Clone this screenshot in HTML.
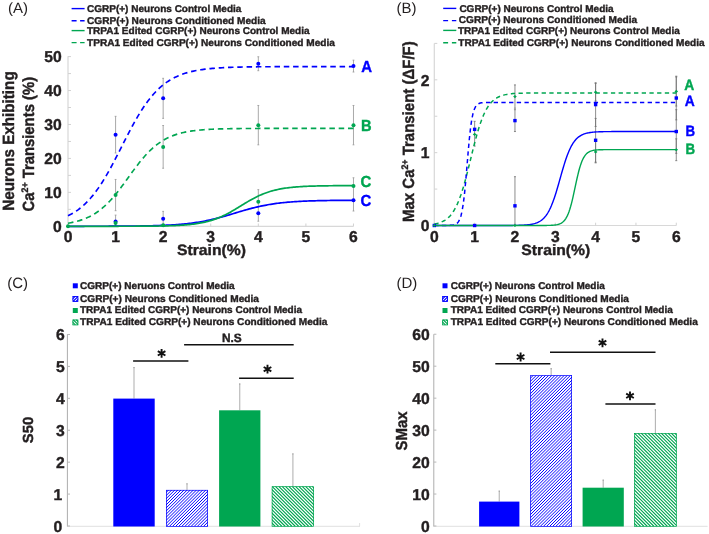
<!DOCTYPE html>
<html><head><meta charset="utf-8"><style>
html,body{margin:0;padding:0;background:#fff;}
svg{display:block;will-change:transform;font-family:"Liberation Sans", sans-serif;text-rendering:geometricPrecision;}
</style></head><body>
<svg width="709" height="534" viewBox="0 0 709 534">
<rect width="709" height="534" fill="#fff"/>
<text x="8.0" y="12.5" font-size="15" font-weight="normal" text-anchor="start" fill="#231f20" >(A)</text>
<line x1="71.6" y1="8.6" x2="84.6" y2="8.6" stroke="#0000ff" stroke-width="1.4"/>
<text x="87" y="11.9" font-size="9.9" font-weight="bold" text-anchor="start" fill="#231f20" stroke="#231f20" stroke-width="0.4" textLength="154.4" lengthAdjust="spacingAndGlyphs" >CGRP(+) Neurons Control Media</text>
<line x1="71.6" y1="20.8" x2="84.6" y2="20.8" stroke="#0000ff" stroke-width="1.4" stroke-dasharray="5,3.5"/>
<text x="87" y="23.9" font-size="9.9" font-weight="bold" text-anchor="start" fill="#231f20" stroke="#231f20" stroke-width="0.4" textLength="178.7" lengthAdjust="spacingAndGlyphs" >CGRP(+) Neurons Conditioned Media</text>
<line x1="71.6" y1="30.6" x2="84.6" y2="30.6" stroke="#00a651" stroke-width="1.4"/>
<text x="87" y="33.7" font-size="9.9" font-weight="bold" text-anchor="start" fill="#231f20" stroke="#231f20" stroke-width="0.4" textLength="222.5" lengthAdjust="spacingAndGlyphs" >TRPA1 Edited CGRP(+) Neurons Control Media</text>
<line x1="71.6" y1="42.6" x2="84.6" y2="42.6" stroke="#00a651" stroke-width="1.4" stroke-dasharray="5,3.5"/>
<text x="87" y="45.6" font-size="9.9" font-weight="bold" text-anchor="start" fill="#231f20" stroke="#231f20" stroke-width="0.4" textLength="247.9" lengthAdjust="spacingAndGlyphs" >TPRA1 Edited CGRP(+) Neurons Conditioned Media</text>
<path d="M68,56.3 L68,226.3 L353.5,226.3" fill="none" stroke="#d8d8d8" stroke-width="1.2"/>
<path d="M68,226.30 L71,226.30 M68,209.33 L71,209.33 M68,192.36 L71,192.36 M68,175.39 L71,175.39 M68,158.42 L71,158.42 M68,141.45 L71,141.45 M68,124.48 L71,124.48 M68,107.51 L71,107.51 M68,90.54 L71,90.54 M68,73.57 L71,73.57 M68,56.60 L71,56.60 M68.00,226.3 L68.00,223.5 M115.58,226.3 L115.58,223.5 M163.16,226.3 L163.16,223.5 M210.74,226.3 L210.74,223.5 M258.32,226.3 L258.32,223.5 M305.90,226.3 L305.90,223.5 M353.48,226.3 L353.48,223.5 " stroke="#d2d2d2" stroke-width="1"/>
<text x="61.8" y="232.0" font-size="15.7" font-weight="bold" text-anchor="end" fill="#231f20" stroke="#231f20" stroke-width="0.4" >0</text>
<text x="61.8" y="198.06" font-size="15.7" font-weight="bold" text-anchor="end" fill="#231f20" stroke="#231f20" stroke-width="0.4" >10</text>
<text x="61.8" y="164.12" font-size="15.7" font-weight="bold" text-anchor="end" fill="#231f20" stroke="#231f20" stroke-width="0.4" >20</text>
<text x="61.8" y="130.18" font-size="15.7" font-weight="bold" text-anchor="end" fill="#231f20" stroke="#231f20" stroke-width="0.4" >30</text>
<text x="61.8" y="96.24" font-size="15.7" font-weight="bold" text-anchor="end" fill="#231f20" stroke="#231f20" stroke-width="0.4" >40</text>
<text x="61.8" y="62.3" font-size="15.7" font-weight="bold" text-anchor="end" fill="#231f20" stroke="#231f20" stroke-width="0.4" >50</text>
<text x="68.0" y="241.6" font-size="15.7" font-weight="bold" text-anchor="middle" fill="#231f20" stroke="#231f20" stroke-width="0.4" >0</text>
<text x="115.58" y="241.6" font-size="15.7" font-weight="bold" text-anchor="middle" fill="#231f20" stroke="#231f20" stroke-width="0.4" >1</text>
<text x="163.16" y="241.6" font-size="15.7" font-weight="bold" text-anchor="middle" fill="#231f20" stroke="#231f20" stroke-width="0.4" >2</text>
<text x="210.74" y="241.6" font-size="15.7" font-weight="bold" text-anchor="middle" fill="#231f20" stroke="#231f20" stroke-width="0.4" >3</text>
<text x="258.32" y="241.6" font-size="15.7" font-weight="bold" text-anchor="middle" fill="#231f20" stroke="#231f20" stroke-width="0.4" >4</text>
<text x="305.9" y="241.6" font-size="15.7" font-weight="bold" text-anchor="middle" fill="#231f20" stroke="#231f20" stroke-width="0.4" >5</text>
<text x="353.48" y="241.6" font-size="15.7" font-weight="bold" text-anchor="middle" fill="#231f20" stroke="#231f20" stroke-width="0.4" >6</text>
<text x="211.5" y="254.8" font-size="15" font-weight="bold" text-anchor="middle" fill="#231f20" stroke="#231f20" stroke-width="0.4" textLength="69" lengthAdjust="spacingAndGlyphs" >Strain(%)</text>
<text transform="translate(13.8,210.8) rotate(-90)" font-size="16.2" font-weight="bold" fill="#231f20" stroke="#231f20" stroke-width="0.4" textLength="139.5" lengthAdjust="spacingAndGlyphs">Neurons Exhibiting</text>
<text transform="translate(34,211.4) rotate(-90)" font-size="16.2" font-weight="bold" fill="#231f20" stroke="#231f20" stroke-width="0.4" textLength="134.5" lengthAdjust="spacingAndGlyphs">Ca<tspan font-size="9.5" dy="-6">2+</tspan><tspan dy="6"> Transients (%)</tspan></text>
<path d="M115.58,116.33 L115.58,152.99 M114.68,116.33 L116.48,116.33 M114.68,152.99 L116.48,152.99" stroke="#9a9a9a" stroke-width="0.85" fill="none"/>
<path d="M163.16,78.32 L163.16,118.37 M162.26,78.32 L164.06,78.32 M162.26,118.37 L164.06,118.37" stroke="#9a9a9a" stroke-width="0.85" fill="none"/>
<path d="M258.32,56.77 L258.32,70.69 M257.42,56.77 L259.22,56.77 M257.42,70.69 L259.22,70.69" stroke="#9a9a9a" stroke-width="0.85" fill="none"/>
<path d="M353.48,60.16 L353.48,72.04 M352.58,60.16 L354.38,60.16 M352.58,72.04 L354.38,72.04" stroke="#9a9a9a" stroke-width="0.85" fill="none"/>
<path d="M115.58,179.46 L115.58,210.69 M114.68,179.46 L116.48,179.46 M114.68,210.69 L116.48,210.69" stroke="#9a9a9a" stroke-width="0.85" fill="none"/>
<path d="M163.16,125.50 L163.16,168.26 M162.26,125.50 L164.06,125.50 M162.26,168.26 L164.06,168.26" stroke="#9a9a9a" stroke-width="0.85" fill="none"/>
<path d="M258.32,105.47 L258.32,144.84 M257.42,105.47 L259.22,105.47 M257.42,144.84 L259.22,144.84" stroke="#9a9a9a" stroke-width="0.85" fill="none"/>
<path d="M353.48,105.47 L353.48,144.84 M352.58,105.47 L354.38,105.47 M352.58,144.84 L354.38,144.84" stroke="#9a9a9a" stroke-width="0.85" fill="none"/>
<path d="M115.58,215.10 L115.58,226.30 M114.68,215.10 L116.48,215.10 M114.68,226.30 L116.48,226.30" stroke="#9a9a9a" stroke-width="0.85" fill="none"/>
<path d="M163.16,211.37 L163.16,226.30 M162.26,211.37 L164.06,211.37 M162.26,226.30 L164.06,226.30" stroke="#9a9a9a" stroke-width="0.85" fill="none"/>
<path d="M258.32,189.64 L258.32,221.21 M257.42,189.64 L259.22,189.64 M257.42,221.21 L259.22,221.21" stroke="#9a9a9a" stroke-width="0.85" fill="none"/>
<path d="M353.48,177.77 L353.48,211.03 M352.58,177.77 L354.38,177.77 M352.58,211.03 L354.38,211.03" stroke="#9a9a9a" stroke-width="0.85" fill="none"/>
<path d="M68.00,223.23 L69.43,222.97 L70.85,222.70 L72.28,222.41 L73.71,222.10 L75.14,221.76 L76.56,221.40 L77.99,221.01 L79.42,220.59 L80.85,220.13 L82.27,219.65 L83.70,219.13 L85.13,218.57 L86.56,217.97 L87.98,217.34 L89.41,216.66 L90.84,215.93 L92.27,215.15 L93.69,214.33 L95.12,213.45 L96.55,212.52 L97.98,211.53 L99.40,210.48 L100.83,209.38 L102.26,208.22 L103.69,206.99 L105.11,205.71 L106.54,204.36 L107.97,202.95 L109.39,201.48 L110.82,199.95 L112.25,198.36 L113.68,196.71 L115.10,195.01 L116.53,193.26 L117.96,191.47 L119.39,189.63 L120.81,187.76 L122.24,185.85 L123.67,183.91 L125.10,181.95 L126.52,179.98 L127.95,178.00 L129.38,176.02 L130.81,174.04 L132.23,172.07 L133.66,170.12 L135.09,168.20 L136.52,166.30 L137.94,164.43 L139.37,162.61 L140.80,160.83 L142.22,159.10 L143.65,157.42 L145.08,155.79 L146.51,154.22 L147.93,152.71 L149.36,151.26 L150.79,149.87 L152.22,148.54 L153.64,147.28 L155.07,146.07 L156.50,144.93 L157.93,143.84 L159.35,142.82 L160.78,141.85 L162.21,140.94 L163.64,140.08 L165.06,139.27 L166.49,138.51 L167.92,137.80 L169.35,137.13 L170.77,136.50 L172.20,135.92 L173.63,135.38 L175.06,134.87 L176.48,134.40 L177.91,133.95 L179.34,133.54 L180.76,133.16 L182.19,132.81 L183.62,132.48 L185.05,132.17 L186.47,131.89 L187.90,131.62 L189.33,131.38 L190.76,131.15 L192.18,130.94 L193.61,130.75 L195.04,130.57 L196.47,130.40 L197.89,130.25 L199.32,130.10 L200.75,129.97 L202.18,129.85 L203.60,129.74 L205.03,129.63 L206.46,129.54 L207.89,129.45 L209.31,129.37 L210.74,129.29 L212.17,129.22 L213.59,129.16 L215.02,129.10 L216.45,129.04 L217.88,128.99 L219.30,128.94 L220.73,128.90 L222.16,128.86 L223.59,128.82 L225.01,128.79 L226.44,128.76 L227.87,128.73 L229.30,128.70 L230.72,128.68 L232.15,128.65 L233.58,128.63 L235.01,128.61 L236.43,128.60 L237.86,128.58 L239.29,128.56 L240.72,128.55 L242.14,128.54 L243.57,128.53 L245.00,128.51 L246.42,128.50 L247.85,128.49 L249.28,128.49 L250.71,128.48 L252.13,128.47 L253.56,128.46 L254.99,128.46 L256.42,128.45 L257.84,128.45 L259.27,128.44 L260.70,128.44 L262.13,128.43 L263.55,128.43 L264.98,128.43 L266.41,128.42 L267.84,128.42 L269.26,128.42 L270.69,128.41 L272.12,128.41 L273.55,128.41 L274.97,128.41 L276.40,128.41 L277.83,128.40 L279.26,128.40 L280.68,128.40 L282.11,128.40 L283.54,128.40 L284.96,128.40 L286.39,128.40 L287.82,128.39 L289.25,128.39 L290.67,128.39 L292.10,128.39 L293.53,128.39 L294.96,128.39 L296.38,128.39 L297.81,128.39 L299.24,128.39 L300.67,128.39 L302.09,128.39 L303.52,128.39 L304.95,128.39 L306.38,128.39 L307.80,128.39 L309.23,128.39 L310.66,128.39 L312.09,128.39 L313.51,128.39 L314.94,128.39 L316.37,128.39 L317.79,128.39 L319.22,128.39 L320.65,128.38 L322.08,128.38 L323.50,128.38 L324.93,128.38 L326.36,128.38 L327.79,128.38 L329.21,128.38 L330.64,128.38 L332.07,128.38 L333.50,128.38 L334.92,128.38 L336.35,128.38 L337.78,128.38 L339.21,128.38 L340.63,128.38 L342.06,128.38 L343.49,128.38 L344.92,128.38 L346.34,128.38 L347.77,128.38 L349.20,128.38 L350.63,128.38 L352.05,128.38 L353.48,128.38" fill="none" stroke="#00a651" stroke-width="1.65" stroke-dasharray="5.5,3.8"/>
<path d="M68.00,215.82 L69.43,215.10 L70.85,214.35 L72.28,213.54 L73.71,212.69 L75.14,211.79 L76.56,210.83 L77.99,209.82 L79.42,208.75 L80.85,207.61 L82.27,206.42 L83.70,205.16 L85.13,203.83 L86.56,202.44 L87.98,200.97 L89.41,199.43 L90.84,197.82 L92.27,196.13 L93.69,194.37 L95.12,192.53 L96.55,190.61 L97.98,188.62 L99.40,186.55 L100.83,184.41 L102.26,182.20 L103.69,179.91 L105.11,177.56 L106.54,175.14 L107.97,172.66 L109.39,170.12 L110.82,167.52 L112.25,164.88 L113.68,162.20 L115.10,159.47 L116.53,156.72 L117.96,153.94 L119.39,151.14 L120.81,148.33 L122.24,145.52 L123.67,142.71 L125.10,139.90 L126.52,137.12 L127.95,134.35 L129.38,131.62 L130.81,128.92 L132.23,126.26 L133.66,123.65 L135.09,121.10 L136.52,118.59 L137.94,116.15 L139.37,113.78 L140.80,111.47 L142.22,109.23 L143.65,107.06 L145.08,104.97 L146.51,102.95 L147.93,101.01 L149.36,99.15 L150.79,97.36 L152.22,95.65 L153.64,94.01 L155.07,92.45 L156.50,90.96 L157.93,89.54 L159.35,88.19 L160.78,86.91 L162.21,85.69 L163.64,84.54 L165.06,83.45 L166.49,82.41 L167.92,81.44 L169.35,80.52 L170.77,79.65 L172.20,78.83 L173.63,78.06 L175.06,77.33 L176.48,76.64 L177.91,76.00 L179.34,75.40 L180.76,74.83 L182.19,74.30 L183.62,73.80 L185.05,73.33 L186.47,72.89 L187.90,72.48 L189.33,72.09 L190.76,71.73 L192.18,71.39 L193.61,71.08 L195.04,70.78 L196.47,70.50 L197.89,70.25 L199.32,70.00 L200.75,69.78 L202.18,69.57 L203.60,69.37 L205.03,69.18 L206.46,69.01 L207.89,68.85 L209.31,68.70 L210.74,68.56 L212.17,68.43 L213.59,68.31 L215.02,68.19 L216.45,68.09 L217.88,67.99 L219.30,67.89 L220.73,67.81 L222.16,67.73 L223.59,67.65 L225.01,67.58 L226.44,67.51 L227.87,67.45 L229.30,67.40 L230.72,67.34 L232.15,67.29 L233.58,67.25 L235.01,67.20 L236.43,67.16 L237.86,67.13 L239.29,67.09 L240.72,67.06 L242.14,67.03 L243.57,67.00 L245.00,66.97 L246.42,66.95 L247.85,66.93 L249.28,66.91 L250.71,66.89 L252.13,66.87 L253.56,66.85 L254.99,66.83 L256.42,66.82 L257.84,66.80 L259.27,66.79 L260.70,66.78 L262.13,66.77 L263.55,66.76 L264.98,66.75 L266.41,66.74 L267.84,66.73 L269.26,66.72 L270.69,66.71 L272.12,66.71 L273.55,66.70 L274.97,66.69 L276.40,66.69 L277.83,66.68 L279.26,66.68 L280.68,66.67 L282.11,66.67 L283.54,66.67 L284.96,66.66 L286.39,66.66 L287.82,66.66 L289.25,66.65 L290.67,66.65 L292.10,66.65 L293.53,66.65 L294.96,66.64 L296.38,66.64 L297.81,66.64 L299.24,66.64 L300.67,66.64 L302.09,66.63 L303.52,66.63 L304.95,66.63 L306.38,66.63 L307.80,66.63 L309.23,66.63 L310.66,66.63 L312.09,66.63 L313.51,66.62 L314.94,66.62 L316.37,66.62 L317.79,66.62 L319.22,66.62 L320.65,66.62 L322.08,66.62 L323.50,66.62 L324.93,66.62 L326.36,66.62 L327.79,66.62 L329.21,66.62 L330.64,66.62 L332.07,66.62 L333.50,66.62 L334.92,66.62 L336.35,66.62 L337.78,66.62 L339.21,66.62 L340.63,66.62 L342.06,66.62 L343.49,66.62 L344.92,66.61 L346.34,66.61 L347.77,66.61 L349.20,66.61 L350.63,66.61 L352.05,66.61 L353.48,66.61" fill="none" stroke="#0000ff" stroke-width="1.65" stroke-dasharray="5.5,3.8"/>
<path d="M68.00,226.29 L69.43,226.29 L70.85,226.29 L72.28,226.29 L73.71,226.28 L75.14,226.28 L76.56,226.28 L77.99,226.28 L79.42,226.28 L80.85,226.28 L82.27,226.28 L83.70,226.28 L85.13,226.27 L86.56,226.27 L87.98,226.27 L89.41,226.27 L90.84,226.27 L92.27,226.26 L93.69,226.26 L95.12,226.26 L96.55,226.26 L97.98,226.25 L99.40,226.25 L100.83,226.25 L102.26,226.24 L103.69,226.24 L105.11,226.23 L106.54,226.23 L107.97,226.23 L109.39,226.22 L110.82,226.21 L112.25,226.21 L113.68,226.20 L115.10,226.20 L116.53,226.19 L117.96,226.18 L119.39,226.17 L120.81,226.16 L122.24,226.16 L123.67,226.15 L125.10,226.14 L126.52,226.12 L127.95,226.11 L129.38,226.10 L130.81,226.09 L132.23,226.07 L133.66,226.06 L135.09,226.04 L136.52,226.02 L137.94,226.00 L139.37,225.98 L140.80,225.96 L142.22,225.94 L143.65,225.91 L145.08,225.89 L146.51,225.86 L147.93,225.83 L149.36,225.80 L150.79,225.77 L152.22,225.73 L153.64,225.69 L155.07,225.65 L156.50,225.61 L157.93,225.56 L159.35,225.52 L160.78,225.46 L162.21,225.41 L163.64,225.35 L165.06,225.29 L166.49,225.22 L167.92,225.15 L169.35,225.08 L170.77,225.00 L172.20,224.91 L173.63,224.82 L175.06,224.73 L176.48,224.63 L177.91,224.52 L179.34,224.41 L180.76,224.29 L182.19,224.17 L183.62,224.03 L185.05,223.89 L186.47,223.74 L187.90,223.59 L189.33,223.42 L190.76,223.25 L192.18,223.07 L193.61,222.88 L195.04,222.67 L196.47,222.46 L197.89,222.24 L199.32,222.01 L200.75,221.77 L202.18,221.52 L203.60,221.25 L205.03,220.98 L206.46,220.69 L207.89,220.40 L209.31,220.09 L210.74,219.77 L212.17,219.44 L213.59,219.11 L215.02,218.76 L216.45,218.40 L217.88,218.03 L219.30,217.65 L220.73,217.27 L222.16,216.87 L223.59,216.47 L225.01,216.06 L226.44,215.65 L227.87,215.23 L229.30,214.81 L230.72,214.38 L232.15,213.95 L233.58,213.52 L235.01,213.09 L236.43,212.66 L237.86,212.23 L239.29,211.80 L240.72,211.38 L242.14,210.96 L243.57,210.54 L245.00,210.13 L246.42,209.73 L247.85,209.33 L249.28,208.94 L250.71,208.56 L252.13,208.19 L253.56,207.83 L254.99,207.48 L256.42,207.13 L257.84,206.80 L259.27,206.48 L260.70,206.17 L262.13,205.87 L263.55,205.58 L264.98,205.30 L266.41,205.04 L267.84,204.78 L269.26,204.53 L270.69,204.30 L272.12,204.07 L273.55,203.86 L274.97,203.66 L276.40,203.46 L277.83,203.28 L279.26,203.10 L280.68,202.93 L282.11,202.77 L283.54,202.62 L284.96,202.48 L286.39,202.34 L287.82,202.22 L289.25,202.09 L290.67,201.98 L292.10,201.87 L293.53,201.77 L294.96,201.67 L296.38,201.58 L297.81,201.50 L299.24,201.42 L300.67,201.34 L302.09,201.27 L303.52,201.20 L304.95,201.14 L306.38,201.08 L307.80,201.02 L309.23,200.97 L310.66,200.92 L312.09,200.87 L313.51,200.83 L314.94,200.79 L316.37,200.75 L317.79,200.71 L319.22,200.68 L320.65,200.64 L322.08,200.61 L323.50,200.59 L324.93,200.56 L326.36,200.54 L327.79,200.51 L329.21,200.49 L330.64,200.47 L332.07,200.45 L333.50,200.43 L334.92,200.42 L336.35,200.40 L337.78,200.39 L339.21,200.37 L340.63,200.36 L342.06,200.35 L343.49,200.33 L344.92,200.32 L346.34,200.31 L347.77,200.30 L349.20,200.30 L350.63,200.29 L352.05,200.28 L353.48,200.27" fill="none" stroke="#0000ff" stroke-width="1.7"/>
<path d="M68.00,226.30 L69.43,226.30 L70.85,226.30 L72.28,226.30 L73.71,226.30 L75.14,226.30 L76.56,226.30 L77.99,226.30 L79.42,226.30 L80.85,226.30 L82.27,226.30 L83.70,226.30 L85.13,226.30 L86.56,226.30 L87.98,226.30 L89.41,226.30 L90.84,226.30 L92.27,226.29 L93.69,226.29 L95.12,226.29 L96.55,226.29 L97.98,226.29 L99.40,226.29 L100.83,226.29 L102.26,226.29 L103.69,226.29 L105.11,226.29 L106.54,226.29 L107.97,226.29 L109.39,226.29 L110.82,226.28 L112.25,226.28 L113.68,226.28 L115.10,226.28 L116.53,226.28 L117.96,226.28 L119.39,226.27 L120.81,226.27 L122.24,226.27 L123.67,226.27 L125.10,226.26 L126.52,226.26 L127.95,226.25 L129.38,226.25 L130.81,226.25 L132.23,226.24 L133.66,226.24 L135.09,226.23 L136.52,226.22 L137.94,226.22 L139.37,226.21 L140.80,226.20 L142.22,226.19 L143.65,226.18 L145.08,226.17 L146.51,226.16 L147.93,226.15 L149.36,226.14 L150.79,226.12 L152.22,226.11 L153.64,226.09 L155.07,226.07 L156.50,226.05 L157.93,226.03 L159.35,226.00 L160.78,225.97 L162.21,225.95 L163.64,225.91 L165.06,225.88 L166.49,225.84 L167.92,225.80 L169.35,225.76 L170.77,225.71 L172.20,225.66 L173.63,225.60 L175.06,225.54 L176.48,225.47 L177.91,225.40 L179.34,225.32 L180.76,225.23 L182.19,225.14 L183.62,225.04 L185.05,224.93 L186.47,224.81 L187.90,224.68 L189.33,224.54 L190.76,224.39 L192.18,224.23 L193.61,224.05 L195.04,223.86 L196.47,223.66 L197.89,223.44 L199.32,223.20 L200.75,222.95 L202.18,222.67 L203.60,222.38 L205.03,222.06 L206.46,221.72 L207.89,221.36 L209.31,220.97 L210.74,220.56 L212.17,220.13 L213.59,219.66 L215.02,219.17 L216.45,218.65 L217.88,218.10 L219.30,217.52 L220.73,216.91 L222.16,216.28 L223.59,215.61 L225.01,214.92 L226.44,214.20 L227.87,213.45 L229.30,212.68 L230.72,211.89 L232.15,211.08 L233.58,210.25 L235.01,209.41 L236.43,208.55 L237.86,207.69 L239.29,206.81 L240.72,205.94 L242.14,205.06 L243.57,204.19 L245.00,203.32 L246.42,202.46 L247.85,201.62 L249.28,200.79 L250.71,199.98 L252.13,199.19 L253.56,198.42 L254.99,197.67 L256.42,196.95 L257.84,196.26 L259.27,195.60 L260.70,194.96 L262.13,194.35 L263.55,193.77 L264.98,193.22 L266.41,192.70 L267.84,192.21 L269.26,191.75 L270.69,191.31 L272.12,190.90 L273.55,190.51 L274.97,190.15 L276.40,189.81 L277.83,189.50 L279.26,189.20 L280.68,188.93 L282.11,188.67 L283.54,188.43 L284.96,188.21 L286.39,188.01 L287.82,187.82 L289.25,187.64 L290.67,187.48 L292.10,187.33 L293.53,187.19 L294.96,187.06 L296.38,186.94 L297.81,186.83 L299.24,186.73 L300.67,186.64 L302.09,186.55 L303.52,186.47 L304.95,186.40 L306.38,186.33 L307.80,186.27 L309.23,186.21 L310.66,186.16 L312.09,186.11 L313.51,186.07 L314.94,186.03 L316.37,185.99 L317.79,185.96 L319.22,185.93 L320.65,185.90 L322.08,185.87 L323.50,185.85 L324.93,185.82 L326.36,185.80 L327.79,185.78 L329.21,185.77 L330.64,185.75 L332.07,185.74 L333.50,185.72 L334.92,185.71 L336.35,185.70 L337.78,185.69 L339.21,185.68 L340.63,185.67 L342.06,185.66 L343.49,185.65 L344.92,185.65 L346.34,185.64 L347.77,185.64 L349.20,185.63 L350.63,185.63 L352.05,185.62 L353.48,185.62" fill="none" stroke="#00a651" stroke-width="1.7"/>
<circle cx="115.58" cy="134.66" r="2" fill="#0000ff"/>
<circle cx="163.16" cy="98.35" r="2" fill="#0000ff"/>
<circle cx="258.32" cy="63.73" r="2" fill="#0000ff"/>
<circle cx="353.48" cy="66.10" r="2" fill="#0000ff"/>
<circle cx="115.58" cy="221.55" r="2" fill="#0000ff"/>
<circle cx="163.16" cy="218.83" r="2" fill="#0000ff"/>
<circle cx="258.32" cy="213.23" r="2" fill="#0000ff"/>
<circle cx="353.48" cy="200.17" r="2" fill="#0000ff"/>
<circle cx="68.00" cy="226.30" r="2" fill="#00a651"/>
<circle cx="115.58" cy="195.08" r="2" fill="#00a651"/>
<circle cx="163.16" cy="146.88" r="2" fill="#00a651"/>
<circle cx="258.32" cy="125.16" r="2" fill="#00a651"/>
<circle cx="353.48" cy="125.16" r="2" fill="#00a651"/>
<circle cx="115.58" cy="222.91" r="2" fill="#00a651"/>
<circle cx="163.16" cy="225.28" r="2" fill="#00a651"/>
<circle cx="258.32" cy="201.86" r="2" fill="#00a651"/>
<circle cx="353.48" cy="185.91" r="2" fill="#00a651"/>
<text x="361.2" y="72.2" font-size="16" font-weight="bold" text-anchor="start" fill="#0000ff" stroke="#0000ff" stroke-width="0.4" textLength="10.8" lengthAdjust="spacingAndGlyphs" >A</text>
<text x="361.0" y="130.7" font-size="16" font-weight="bold" text-anchor="start" fill="#00a651" stroke="#00a651" stroke-width="0.4" textLength="10.6" lengthAdjust="spacingAndGlyphs" >B</text>
<text x="360.6" y="187.0" font-size="16" font-weight="bold" text-anchor="start" fill="#00a651" stroke="#00a651" stroke-width="0.4" textLength="10.8" lengthAdjust="spacingAndGlyphs" >C</text>
<text x="360.6" y="205.6" font-size="16" font-weight="bold" text-anchor="start" fill="#0000ff" stroke="#0000ff" stroke-width="0.4" textLength="10.8" lengthAdjust="spacingAndGlyphs" >C</text>
<text x="396.5" y="12.5" font-size="15" font-weight="normal" text-anchor="start" fill="#231f20" >(B)</text>
<line x1="443.2" y1="8.4" x2="456.3" y2="8.4" stroke="#0000ff" stroke-width="1.4"/>
<text x="459.4" y="11.5" font-size="9.9" font-weight="bold" text-anchor="start" fill="#231f20" stroke="#231f20" stroke-width="0.4" textLength="154.2" lengthAdjust="spacingAndGlyphs" >CGRP(+) Neurons Control Media</text>
<line x1="443.2" y1="20.6" x2="456.3" y2="20.6" stroke="#0000ff" stroke-width="1.4" stroke-dasharray="4.9,3.8"/>
<text x="458.8" y="23.4" font-size="9.9" font-weight="bold" text-anchor="start" fill="#231f20" stroke="#231f20" stroke-width="0.4" textLength="178.3" lengthAdjust="spacingAndGlyphs" >CGRP(+) Neurons Conditioned Media</text>
<line x1="443.2" y1="30.4" x2="456.3" y2="30.4" stroke="#00a651" stroke-width="1.4"/>
<text x="458.0" y="34.1" font-size="9.9" font-weight="bold" text-anchor="start" fill="#231f20" stroke="#231f20" stroke-width="0.4" textLength="221.8" lengthAdjust="spacingAndGlyphs" >TRPA1 Edited CGRP(+) Neurons Control Media</text>
<line x1="443.2" y1="42.8" x2="456.3" y2="42.8" stroke="#00a651" stroke-width="1.4" stroke-dasharray="4.9,3.8"/>
<text x="458.3" y="45.8" font-size="9.9" font-weight="bold" text-anchor="start" fill="#231f20" stroke="#231f20" stroke-width="0.4" textLength="246.3" lengthAdjust="spacingAndGlyphs" >TRPA1 Edited CGRP(+) Neurons Conditioned Media</text>
<path d="M434.3,43.4 L434.3,225.5 L676.3,225.5" fill="none" stroke="#d8d8d8" stroke-width="1.2"/>
<path d="M434.3,225.50 L437.3,225.50 M434.3,189.08 L437.3,189.08 M434.3,152.66 L437.3,152.66 M434.3,116.24 L437.3,116.24 M434.3,79.82 L437.3,79.82 M434.3,43.40 L437.3,43.40 M434.30,225.5 L434.30,222.7 M474.63,225.5 L474.63,222.7 M514.96,225.5 L514.96,222.7 M555.29,225.5 L555.29,222.7 M595.62,225.5 L595.62,222.7 M635.95,225.5 L635.95,222.7 M676.28,225.5 L676.28,222.7 " stroke="#d2d2d2" stroke-width="1"/>
<text x="429.6" y="231.2" font-size="15.7" font-weight="bold" text-anchor="end" fill="#231f20" stroke="#231f20" stroke-width="0.4" >0</text>
<text x="429.6" y="158.36" font-size="15.7" font-weight="bold" text-anchor="end" fill="#231f20" stroke="#231f20" stroke-width="0.4" >1</text>
<text x="429.6" y="85.52" font-size="15.7" font-weight="bold" text-anchor="end" fill="#231f20" stroke="#231f20" stroke-width="0.4" >2</text>
<text x="434.3" y="241.6" font-size="15.7" font-weight="bold" text-anchor="middle" fill="#231f20" stroke="#231f20" stroke-width="0.4" >0</text>
<text x="474.63" y="241.6" font-size="15.7" font-weight="bold" text-anchor="middle" fill="#231f20" stroke="#231f20" stroke-width="0.4" >1</text>
<text x="514.96" y="241.6" font-size="15.7" font-weight="bold" text-anchor="middle" fill="#231f20" stroke="#231f20" stroke-width="0.4" >2</text>
<text x="555.29" y="241.6" font-size="15.7" font-weight="bold" text-anchor="middle" fill="#231f20" stroke="#231f20" stroke-width="0.4" >3</text>
<text x="595.62" y="241.6" font-size="15.7" font-weight="bold" text-anchor="middle" fill="#231f20" stroke="#231f20" stroke-width="0.4" >4</text>
<text x="635.95" y="241.6" font-size="15.7" font-weight="bold" text-anchor="middle" fill="#231f20" stroke="#231f20" stroke-width="0.4" >5</text>
<text x="676.28" y="241.6" font-size="15.7" font-weight="bold" text-anchor="middle" fill="#231f20" stroke="#231f20" stroke-width="0.4" >6</text>
<text x="555.8" y="254.8" font-size="15" font-weight="bold" text-anchor="middle" fill="#231f20" stroke="#231f20" stroke-width="0.4" textLength="69" lengthAdjust="spacingAndGlyphs" >Strain(%)</text>
<text transform="translate(413.8,222) rotate(-90)" font-size="16.2" font-weight="bold" fill="#231f20" stroke="#231f20" stroke-width="0.4" textLength="180.7" lengthAdjust="spacingAndGlyphs">Max Ca<tspan font-size="9.5" dy="-6">2+</tspan><tspan dy="6"> Transient (ΔF/F)</tspan></text>
<path d="M474.63,121.34 L474.63,146.10 M473.63,121.34 L475.63,121.34 M473.63,146.10 L475.63,146.10" stroke="#707070" stroke-width="0.8" fill="none"/>
<path d="M514.96,109.68 L514.96,131.54 M513.96,109.68 L515.96,109.68 M513.96,131.54 L515.96,131.54" stroke="#707070" stroke-width="0.8" fill="none"/>
<path d="M514.96,84.92 L514.96,108.23 M513.96,84.92 L515.96,84.92 M513.96,108.23 L515.96,108.23" stroke="#707070" stroke-width="0.8" fill="none"/>
<path d="M514.96,176.70 L514.96,225.50 M513.96,176.70 L515.96,176.70 M513.96,225.50 L515.96,225.50" stroke="#707070" stroke-width="0.8" fill="none"/>
<path d="M595.62,82.73 L595.62,126.44 M594.62,82.73 L596.62,82.73 M594.62,126.44 L596.62,126.44" stroke="#707070" stroke-width="0.8" fill="none"/>
<path d="M595.62,118.43 L595.62,162.13 M594.62,118.43 L596.62,118.43 M594.62,162.13 L596.62,162.13" stroke="#707070" stroke-width="0.8" fill="none"/>
<path d="M595.62,83.46 L595.62,100.94 M594.62,83.46 L596.62,83.46 M594.62,100.94 L596.62,100.94" stroke="#707070" stroke-width="0.8" fill="none"/>
<path d="M595.62,141.01 L595.62,162.86 M594.62,141.01 L596.62,141.01 M594.62,162.86 L596.62,162.86" stroke="#707070" stroke-width="0.8" fill="none"/>
<path d="M676.28,76.18 L676.28,119.88 M675.28,76.18 L677.28,76.18 M675.28,119.88 L677.28,119.88" stroke="#707070" stroke-width="0.8" fill="none"/>
<path d="M676.28,109.68 L676.28,153.39 M675.28,109.68 L677.28,109.68 M675.28,153.39 L677.28,153.39" stroke="#707070" stroke-width="0.8" fill="none"/>
<path d="M676.28,76.91 L676.28,106.04 M675.28,76.91 L677.28,76.91 M675.28,106.04 L677.28,106.04" stroke="#707070" stroke-width="0.8" fill="none"/>
<path d="M676.28,138.82 L676.28,160.67 M675.28,138.82 L677.28,138.82 M675.28,160.67 L677.28,160.67" stroke="#707070" stroke-width="0.8" fill="none"/>
<path d="M434.30,224.04 L435.51,223.81 L436.72,223.54 L437.93,223.23 L439.14,222.87 L440.35,222.45 L441.56,221.97 L442.77,221.42 L443.98,220.78 L445.19,220.05 L446.40,219.21 L447.61,218.25 L448.82,217.15 L450.03,215.90 L451.24,214.47 L452.45,212.86 L453.66,211.04 L454.87,208.99 L456.08,206.69 L457.29,204.14 L458.50,201.32 L459.71,198.21 L460.92,194.81 L462.13,191.13 L463.34,187.18 L464.55,182.97 L465.76,178.53 L466.97,173.88 L468.18,169.08 L469.39,164.18 L470.60,159.22 L471.81,154.25 L473.02,149.35 L474.23,144.55 L475.44,139.91 L476.65,135.46 L477.86,131.25 L479.07,127.30 L480.28,123.62 L481.49,120.22 L482.70,117.12 L483.91,114.29 L485.12,111.74 L486.33,109.44 L487.54,107.39 L488.75,105.57 L489.96,103.96 L491.17,102.53 L492.38,101.28 L493.59,100.18 L494.80,99.22 L496.00,98.38 L497.21,97.65 L498.42,97.01 L499.63,96.46 L500.84,95.98 L502.05,95.56 L503.26,95.20 L504.47,94.89 L505.68,94.62 L506.89,94.39 L508.10,94.19 L509.31,94.01 L510.52,93.86 L511.73,93.73 L512.94,93.62 L514.15,93.53 L515.36,93.44 L516.57,93.37 L517.78,93.31 L518.99,93.26 L520.20,93.21 L521.41,93.17 L522.62,93.14 L523.83,93.11 L525.04,93.09 L526.25,93.06 L527.46,93.05 L528.67,93.03 L529.88,93.02 L531.09,93.00 L532.30,92.99 L533.51,92.99 L534.72,92.98 L535.93,92.97 L537.14,92.97 L538.35,92.96 L539.56,92.96 L540.77,92.95 L541.98,92.95 L543.19,92.95 L544.40,92.95 L545.61,92.94 L546.82,92.94 L548.03,92.94 L549.24,92.94 L550.45,92.94 L551.66,92.94 L552.87,92.94 L554.08,92.94 L555.29,92.93 L556.50,92.93 L557.71,92.93 L558.92,92.93 L560.13,92.93 L561.34,92.93 L562.55,92.93 L563.76,92.93 L564.97,92.93 L566.18,92.93 L567.39,92.93 L568.60,92.93 L569.81,92.93 L571.02,92.93 L572.23,92.93 L573.44,92.93 L574.65,92.93 L575.86,92.93 L577.07,92.93 L578.28,92.93 L579.49,92.93 L580.70,92.93 L581.91,92.93 L583.12,92.93 L584.33,92.93 L585.54,92.93 L586.75,92.93 L587.96,92.93 L589.17,92.93 L590.38,92.93 L591.59,92.93 L592.80,92.93 L594.01,92.93 L595.22,92.93 L596.43,92.93 L597.64,92.93 L598.85,92.93 L600.06,92.93 L601.27,92.93 L602.48,92.93 L603.69,92.93 L604.90,92.93 L606.11,92.93 L607.32,92.93 L608.53,92.93 L609.74,92.93 L610.95,92.93 L612.16,92.93 L613.37,92.93 L614.58,92.93 L615.78,92.93 L616.99,92.93 L618.20,92.93 L619.41,92.93 L620.62,92.93 L621.83,92.93 L623.04,92.93 L624.25,92.93 L625.46,92.93 L626.67,92.93 L627.88,92.93 L629.09,92.93 L630.30,92.93 L631.51,92.93 L632.72,92.93 L633.93,92.93 L635.14,92.93 L636.35,92.93 L637.56,92.93 L638.77,92.93 L639.98,92.93 L641.19,92.93 L642.40,92.93 L643.61,92.93 L644.82,92.93 L646.03,92.93 L647.24,92.93 L648.45,92.93 L649.66,92.93 L650.87,92.93 L652.08,92.93 L653.29,92.93 L654.50,92.93 L655.71,92.93 L656.92,92.93 L658.13,92.93 L659.34,92.93 L660.55,92.93 L661.76,92.93 L662.97,92.93 L664.18,92.93 L665.39,92.93 L666.60,92.93 L667.81,92.93 L669.02,92.93 L670.23,92.93 L671.44,92.93 L672.65,92.93 L673.86,92.93 L675.07,92.93 L676.28,92.93" fill="none" stroke="#00a651" stroke-width="1.5" stroke-dasharray="4.3,3.4"/>
<path d="M434.30,225.50 L435.51,225.50 L436.72,225.50 L437.93,225.50 L439.14,225.50 L440.35,225.50 L441.56,225.50 L442.77,225.49 L443.98,225.49 L445.19,225.48 L446.40,225.47 L447.61,225.45 L448.82,225.42 L450.03,225.36 L451.24,225.28 L452.45,225.14 L453.66,224.92 L454.87,224.57 L456.08,224.01 L457.29,223.11 L458.50,221.68 L459.71,219.44 L460.92,215.99 L462.13,210.83 L463.34,203.41 L464.55,193.35 L465.76,180.75 L466.97,166.41 L468.18,151.80 L469.39,138.49 L470.60,127.54 L471.81,119.27 L473.02,113.42 L474.23,109.46 L475.44,106.86 L476.65,105.20 L477.86,104.15 L479.07,103.49 L480.28,103.08 L481.49,102.82 L482.70,102.66 L483.91,102.56 L485.12,102.50 L486.33,102.46 L487.54,102.44 L488.75,102.42 L489.96,102.41 L491.17,102.41 L492.38,102.41 L493.59,102.40 L494.80,102.40 L496.00,102.40 L497.21,102.40 L498.42,102.40 L499.63,102.40 L500.84,102.40 L502.05,102.40 L503.26,102.40 L504.47,102.40 L505.68,102.40 L506.89,102.40 L508.10,102.40 L509.31,102.40 L510.52,102.40 L511.73,102.40 L512.94,102.40 L514.15,102.40 L515.36,102.40 L516.57,102.40 L517.78,102.40 L518.99,102.40 L520.20,102.40 L521.41,102.40 L522.62,102.40 L523.83,102.40 L525.04,102.40 L526.25,102.40 L527.46,102.40 L528.67,102.40 L529.88,102.40 L531.09,102.40 L532.30,102.40 L533.51,102.40 L534.72,102.40 L535.93,102.40 L537.14,102.40 L538.35,102.40 L539.56,102.40 L540.77,102.40 L541.98,102.40 L543.19,102.40 L544.40,102.40 L545.61,102.40 L546.82,102.40 L548.03,102.40 L549.24,102.40 L550.45,102.40 L551.66,102.40 L552.87,102.40 L554.08,102.40 L555.29,102.40 L556.50,102.40 L557.71,102.40 L558.92,102.40 L560.13,102.40 L561.34,102.40 L562.55,102.40 L563.76,102.40 L564.97,102.40 L566.18,102.40 L567.39,102.40 L568.60,102.40 L569.81,102.40 L571.02,102.40 L572.23,102.40 L573.44,102.40 L574.65,102.40 L575.86,102.40 L577.07,102.40 L578.28,102.40 L579.49,102.40 L580.70,102.40 L581.91,102.40 L583.12,102.40 L584.33,102.40 L585.54,102.40 L586.75,102.40 L587.96,102.40 L589.17,102.40 L590.38,102.40 L591.59,102.40 L592.80,102.40 L594.01,102.40 L595.22,102.40 L596.43,102.40 L597.64,102.40 L598.85,102.40 L600.06,102.40 L601.27,102.40 L602.48,102.40 L603.69,102.40 L604.90,102.40 L606.11,102.40 L607.32,102.40 L608.53,102.40 L609.74,102.40 L610.95,102.40 L612.16,102.40 L613.37,102.40 L614.58,102.40 L615.78,102.40 L616.99,102.40 L618.20,102.40 L619.41,102.40 L620.62,102.40 L621.83,102.40 L623.04,102.40 L624.25,102.40 L625.46,102.40 L626.67,102.40 L627.88,102.40 L629.09,102.40 L630.30,102.40 L631.51,102.40 L632.72,102.40 L633.93,102.40 L635.14,102.40 L636.35,102.40 L637.56,102.40 L638.77,102.40 L639.98,102.40 L641.19,102.40 L642.40,102.40 L643.61,102.40 L644.82,102.40 L646.03,102.40 L647.24,102.40 L648.45,102.40 L649.66,102.40 L650.87,102.40 L652.08,102.40 L653.29,102.40 L654.50,102.40 L655.71,102.40 L656.92,102.40 L658.13,102.40 L659.34,102.40 L660.55,102.40 L661.76,102.40 L662.97,102.40 L664.18,102.40 L665.39,102.40 L666.60,102.40 L667.81,102.40 L669.02,102.40 L670.23,102.40 L671.44,102.40 L672.65,102.40 L673.86,102.40 L675.07,102.40 L676.28,102.40" fill="none" stroke="#0000ff" stroke-width="1.5" stroke-dasharray="4.3,3.4"/>
<path d="M434.30,225.50 L435.11,225.50 L435.91,225.50 L436.72,225.50 L437.53,225.50 L438.33,225.50 L439.14,225.50 L439.95,225.50 L440.75,225.50 L441.56,225.50 L442.37,225.50 L443.17,225.50 L443.98,225.50 L444.79,225.50 L445.59,225.50 L446.40,225.50 L447.21,225.50 L448.01,225.50 L448.82,225.50 L449.63,225.50 L450.43,225.50 L451.24,225.50 L452.05,225.50 L452.85,225.50 L453.66,225.50 L454.47,225.50 L455.27,225.50 L456.08,225.50 L456.88,225.50 L457.69,225.50 L458.50,225.50 L459.30,225.50 L460.11,225.50 L460.92,225.50 L461.72,225.50 L462.53,225.50 L463.34,225.50 L464.14,225.50 L464.95,225.50 L465.76,225.50 L466.56,225.50 L467.37,225.50 L468.18,225.50 L468.98,225.50 L469.79,225.50 L470.60,225.50 L471.40,225.50 L472.21,225.50 L473.02,225.50 L473.82,225.50 L474.63,225.50 L475.44,225.50 L476.24,225.50 L477.05,225.50 L477.86,225.50 L478.66,225.50 L479.47,225.50 L480.28,225.50 L481.08,225.50 L481.89,225.50 L482.70,225.50 L483.50,225.50 L484.31,225.50 L485.12,225.50 L485.92,225.50 L486.73,225.50 L487.54,225.50 L488.34,225.50 L489.15,225.50 L489.96,225.50 L490.76,225.50 L491.57,225.50 L492.38,225.50 L493.18,225.50 L493.99,225.50 L494.80,225.50 L495.60,225.49 L496.41,225.49 L497.21,225.49 L498.02,225.49 L498.83,225.49 L499.63,225.49 L500.44,225.49 L501.25,225.49 L502.05,225.49 L502.86,225.48 L503.67,225.48 L504.47,225.48 L505.28,225.48 L506.09,225.47 L506.89,225.47 L507.70,225.47 L508.51,225.46 L509.31,225.46 L510.12,225.45 L510.93,225.44 L511.73,225.44 L512.54,225.43 L513.35,225.42 L514.15,225.41 L514.96,225.40 L515.77,225.39 L516.57,225.37 L517.38,225.35 L518.19,225.34 L518.99,225.31 L519.80,225.29 L520.61,225.26 L521.41,225.23 L522.22,225.20 L523.03,225.16 L523.83,225.11 L524.64,225.06 L525.45,225.01 L526.25,224.94 L527.06,224.87 L527.87,224.79 L528.67,224.70 L529.48,224.60 L530.29,224.48 L531.09,224.35 L531.90,224.20 L532.71,224.04 L533.51,223.85 L534.32,223.64 L535.12,223.41 L535.93,223.14 L536.74,222.85 L537.54,222.51 L538.35,222.14 L539.16,221.72 L539.96,221.25 L540.77,220.73 L541.58,220.14 L542.38,219.49 L543.19,218.77 L544.00,217.97 L544.80,217.08 L545.61,216.09 L546.42,215.01 L547.22,213.82 L548.03,212.51 L548.84,211.08 L549.64,209.53 L550.45,207.85 L551.26,206.03 L552.06,204.08 L552.87,202.00 L553.68,199.78 L554.48,197.44 L555.29,194.98 L556.10,192.42 L556.90,189.76 L557.71,187.02 L558.52,184.22 L559.32,181.38 L560.13,178.52 L560.94,175.66 L561.74,172.81 L562.55,170.02 L563.36,167.28 L564.16,164.62 L564.97,162.05 L565.78,159.59 L566.58,157.25 L567.39,155.04 L568.20,152.95 L569.00,151.00 L569.81,149.19 L570.62,147.51 L571.42,145.95 L572.23,144.53 L573.04,143.22 L573.84,142.03 L574.65,140.94 L575.46,139.96 L576.26,139.07 L577.07,138.27 L577.87,137.54 L578.68,136.89 L579.49,136.31 L580.29,135.79 L581.10,135.32 L581.91,134.90 L582.71,134.52 L583.52,134.19 L584.33,133.89 L585.13,133.63 L585.94,133.39 L586.75,133.18 L587.55,133.00 L588.36,132.83 L589.17,132.69 L589.97,132.55 L590.78,132.44 L591.59,132.34 L592.39,132.24 L593.20,132.16 L594.01,132.09 L594.81,132.03 L595.62,131.97 L596.43,131.92 L597.23,131.88 L598.04,131.84 L598.85,131.80 L599.65,131.77 L600.46,131.75 L601.27,131.72 L602.07,131.70 L602.88,131.68 L603.69,131.67 L604.49,131.65 L605.30,131.64 L606.11,131.63 L606.91,131.62 L607.72,131.61 L608.53,131.60 L609.33,131.59 L610.14,131.59 L610.95,131.58 L611.75,131.57 L612.56,131.57 L613.37,131.57 L614.17,131.56 L614.98,131.56 L615.78,131.56 L616.59,131.55 L617.40,131.55 L618.20,131.55 L619.01,131.55 L619.82,131.55 L620.62,131.55 L621.43,131.55 L622.24,131.54 L623.04,131.54 L623.85,131.54 L624.66,131.54 L625.46,131.54 L626.27,131.54 L627.08,131.54 L627.88,131.54 L628.69,131.54 L629.50,131.54 L630.30,131.54 L631.11,131.54 L631.92,131.54 L632.72,131.54 L633.53,131.54 L634.34,131.54 L635.14,131.54 L635.95,131.54 L636.76,131.54 L637.56,131.54 L638.37,131.54 L639.18,131.54 L639.98,131.54 L640.79,131.54 L641.60,131.54 L642.40,131.54 L643.21,131.54 L644.02,131.54 L644.82,131.54 L645.63,131.54 L646.44,131.54 L647.24,131.54 L648.05,131.54 L648.86,131.54 L649.66,131.54 L650.47,131.54 L651.28,131.54 L652.08,131.54 L652.89,131.54 L653.70,131.54 L654.50,131.54 L655.31,131.54 L656.12,131.54 L656.92,131.54 L657.73,131.54 L658.53,131.54 L659.34,131.54 L660.15,131.54 L660.95,131.54 L661.76,131.54 L662.57,131.54 L663.37,131.54 L664.18,131.54 L664.99,131.54 L665.79,131.54 L666.60,131.54 L667.41,131.54 L668.21,131.54 L669.02,131.54 L669.83,131.54 L670.63,131.54 L671.44,131.54 L672.25,131.54 L673.05,131.54 L673.86,131.54 L674.67,131.54 L675.47,131.54 L676.28,131.54" fill="none" stroke="#0000ff" stroke-width="1.4"/>
<path d="M434.30,225.50 L435.11,225.50 L435.91,225.50 L436.72,225.50 L437.53,225.50 L438.33,225.50 L439.14,225.50 L439.95,225.50 L440.75,225.50 L441.56,225.50 L442.37,225.50 L443.17,225.50 L443.98,225.50 L444.79,225.50 L445.59,225.50 L446.40,225.50 L447.21,225.50 L448.01,225.50 L448.82,225.50 L449.63,225.50 L450.43,225.50 L451.24,225.50 L452.05,225.50 L452.85,225.50 L453.66,225.50 L454.47,225.50 L455.27,225.50 L456.08,225.50 L456.88,225.50 L457.69,225.50 L458.50,225.50 L459.30,225.50 L460.11,225.50 L460.92,225.50 L461.72,225.50 L462.53,225.50 L463.34,225.50 L464.14,225.50 L464.95,225.50 L465.76,225.50 L466.56,225.50 L467.37,225.50 L468.18,225.50 L468.98,225.50 L469.79,225.50 L470.60,225.50 L471.40,225.50 L472.21,225.50 L473.02,225.50 L473.82,225.50 L474.63,225.50 L475.44,225.50 L476.24,225.50 L477.05,225.50 L477.86,225.50 L478.66,225.50 L479.47,225.50 L480.28,225.50 L481.08,225.50 L481.89,225.50 L482.70,225.50 L483.50,225.50 L484.31,225.50 L485.12,225.50 L485.92,225.50 L486.73,225.50 L487.54,225.50 L488.34,225.50 L489.15,225.50 L489.96,225.50 L490.76,225.50 L491.57,225.50 L492.38,225.50 L493.18,225.50 L493.99,225.50 L494.80,225.50 L495.60,225.50 L496.41,225.50 L497.21,225.50 L498.02,225.50 L498.83,225.50 L499.63,225.50 L500.44,225.50 L501.25,225.50 L502.05,225.50 L502.86,225.50 L503.67,225.50 L504.47,225.50 L505.28,225.50 L506.09,225.50 L506.89,225.50 L507.70,225.50 L508.51,225.50 L509.31,225.50 L510.12,225.50 L510.93,225.50 L511.73,225.50 L512.54,225.50 L513.35,225.50 L514.15,225.50 L514.96,225.50 L515.77,225.50 L516.57,225.50 L517.38,225.50 L518.19,225.50 L518.99,225.50 L519.80,225.50 L520.61,225.50 L521.41,225.50 L522.22,225.50 L523.03,225.50 L523.83,225.50 L524.64,225.50 L525.45,225.50 L526.25,225.50 L527.06,225.50 L527.87,225.50 L528.67,225.50 L529.48,225.50 L530.29,225.50 L531.09,225.50 L531.90,225.50 L532.71,225.50 L533.51,225.50 L534.32,225.50 L535.12,225.50 L535.93,225.50 L536.74,225.49 L537.54,225.49 L538.35,225.49 L539.16,225.49 L539.96,225.49 L540.77,225.48 L541.58,225.48 L542.38,225.48 L543.19,225.47 L544.00,225.47 L544.80,225.46 L545.61,225.45 L546.42,225.44 L547.22,225.42 L548.03,225.41 L548.84,225.39 L549.64,225.36 L550.45,225.33 L551.26,225.29 L552.06,225.25 L552.87,225.19 L553.68,225.12 L554.48,225.04 L555.29,224.94 L556.10,224.82 L556.90,224.67 L557.71,224.48 L558.52,224.26 L559.32,223.99 L560.13,223.67 L560.94,223.28 L561.74,222.80 L562.55,222.23 L563.36,221.54 L564.16,220.72 L564.97,219.74 L565.78,218.58 L566.58,217.22 L567.39,215.62 L568.20,213.78 L569.00,211.65 L569.81,209.25 L570.62,206.54 L571.42,203.56 L572.23,200.32 L573.04,196.84 L573.84,193.20 L574.65,189.45 L575.46,185.65 L576.26,181.90 L577.07,178.26 L577.87,174.79 L578.68,171.54 L579.49,168.56 L580.29,165.86 L581.10,163.45 L581.91,161.32 L582.71,159.48 L583.52,157.88 L584.33,156.52 L585.13,155.36 L585.94,154.38 L586.75,153.56 L587.55,152.87 L588.36,152.30 L589.17,151.83 L589.97,151.43 L590.78,151.11 L591.59,150.84 L592.39,150.62 L593.20,150.43 L594.01,150.28 L594.81,150.16 L595.62,150.06 L596.43,149.98 L597.23,149.91 L598.04,149.85 L598.85,149.81 L599.65,149.77 L600.46,149.74 L601.27,149.71 L602.07,149.69 L602.88,149.68 L603.69,149.66 L604.49,149.65 L605.30,149.64 L606.11,149.64 L606.91,149.63 L607.72,149.62 L608.53,149.62 L609.33,149.62 L610.14,149.61 L610.95,149.61 L611.75,149.61 L612.56,149.61 L613.37,149.61 L614.17,149.61 L614.98,149.60 L615.78,149.60 L616.59,149.60 L617.40,149.60 L618.20,149.60 L619.01,149.60 L619.82,149.60 L620.62,149.60 L621.43,149.60 L622.24,149.60 L623.04,149.60 L623.85,149.60 L624.66,149.60 L625.46,149.60 L626.27,149.60 L627.08,149.60 L627.88,149.60 L628.69,149.60 L629.50,149.60 L630.30,149.60 L631.11,149.60 L631.92,149.60 L632.72,149.60 L633.53,149.60 L634.34,149.60 L635.14,149.60 L635.95,149.60 L636.76,149.60 L637.56,149.60 L638.37,149.60 L639.18,149.60 L639.98,149.60 L640.79,149.60 L641.60,149.60 L642.40,149.60 L643.21,149.60 L644.02,149.60 L644.82,149.60 L645.63,149.60 L646.44,149.60 L647.24,149.60 L648.05,149.60 L648.86,149.60 L649.66,149.60 L650.47,149.60 L651.28,149.60 L652.08,149.60 L652.89,149.60 L653.70,149.60 L654.50,149.60 L655.31,149.60 L656.12,149.60 L656.92,149.60 L657.73,149.60 L658.53,149.60 L659.34,149.60 L660.15,149.60 L660.95,149.60 L661.76,149.60 L662.57,149.60 L663.37,149.60 L664.18,149.60 L664.99,149.60 L665.79,149.60 L666.60,149.60 L667.41,149.60 L668.21,149.60 L669.02,149.60 L669.83,149.60 L670.63,149.60 L671.44,149.60 L672.25,149.60 L673.05,149.60 L673.86,149.60 L674.67,149.60 L675.47,149.60 L676.28,149.60" fill="none" stroke="#00a651" stroke-width="1.4"/>
<rect x="432.60" y="223.80" width="3.4" height="3.4" fill="#0000ff"/>
<rect x="472.93" y="223.80" width="3.4" height="3.4" fill="#0000ff"/>
<rect x="472.93" y="127.65" width="3.4" height="3.4" fill="#0000ff"/>
<rect x="513.26" y="118.91" width="3.4" height="3.4" fill="#0000ff"/>
<rect x="513.26" y="204.13" width="3.4" height="3.4" fill="#0000ff"/>
<rect x="593.92" y="102.89" width="3.4" height="3.4" fill="#0000ff"/>
<rect x="593.92" y="138.58" width="3.4" height="3.4" fill="#0000ff"/>
<rect x="674.58" y="96.33" width="3.4" height="3.4" fill="#0000ff"/>
<rect x="674.58" y="129.84" width="3.4" height="3.4" fill="#0000ff"/>
<path d="M432.50,225.50 L434.30,223.90 L436.10,225.50 L434.30,227.10Z" fill="#00a651"/>
<path d="M472.83,134.45 L474.63,132.85 L476.43,134.45 L474.63,136.05Z" fill="#00a651"/>
<path d="M513.16,225.50 L514.96,223.90 L516.76,225.50 L514.96,227.10Z" fill="#00a651"/>
<path d="M513.16,96.57 L514.96,94.97 L516.76,96.57 L514.96,98.17Z" fill="#00a651"/>
<path d="M593.82,92.20 L595.62,90.60 L597.42,92.20 L595.62,93.80Z" fill="#00a651"/>
<path d="M593.82,151.93 L595.62,150.33 L597.42,151.93 L595.62,153.53Z" fill="#00a651"/>
<path d="M674.48,91.47 L676.28,89.87 L678.08,91.47 L676.28,93.07Z" fill="#00a651"/>
<path d="M674.48,149.75 L676.28,148.15 L678.08,149.75 L676.28,151.35Z" fill="#00a651"/>
<text x="684.3" y="89.6" font-size="15" font-weight="bold" text-anchor="start" fill="#00a651" stroke="#00a651" stroke-width="0.4" textLength="10.0" lengthAdjust="spacingAndGlyphs" >A</text>
<text x="684.8" y="106.2" font-size="15" font-weight="bold" text-anchor="start" fill="#0000ff" stroke="#0000ff" stroke-width="0.4" textLength="10.0" lengthAdjust="spacingAndGlyphs" >A</text>
<text x="685.4" y="135.5" font-size="15" font-weight="bold" text-anchor="start" fill="#0000ff" stroke="#0000ff" stroke-width="0.4" textLength="9.6" lengthAdjust="spacingAndGlyphs" >B</text>
<text x="685.4" y="154.0" font-size="15" font-weight="bold" text-anchor="start" fill="#00a651" stroke="#00a651" stroke-width="0.4" textLength="9.6" lengthAdjust="spacingAndGlyphs" >B</text>
<defs>
<pattern id="hb" patternUnits="userSpaceOnUse" width="2.1" height="4" patternTransform="rotate(45)"><rect width="2.1" height="4" fill="#fff"/><rect width="1.15" height="4" fill="#0000ff"/></pattern>
<pattern id="hg" patternUnits="userSpaceOnUse" width="2.25" height="4" patternTransform="rotate(-45)"><rect width="2.25" height="4" fill="#fff"/><rect width="1.25" height="4" fill="#00a651"/></pattern>
</defs>
<text x="7.3" y="287.7" font-size="15" font-weight="normal" text-anchor="start" fill="#231f20" >(C)</text>
<rect x="72.8" y="283.30" width="5" height="5" fill="#0000ff"/>
<text x="80" y="288.9" font-size="9.9" font-weight="bold" text-anchor="start" fill="#231f20" stroke="#231f20" stroke-width="0.4" textLength="154.7" lengthAdjust="spacingAndGlyphs" >CGRP(+) Neruons Control Media</text>
<clipPath id="hc1"><rect x="72.5" y="296.1" width="5.80" height="5.40"/></clipPath>
<rect x="72.5" y="296.1" width="5.80" height="5.40" fill="#fff"/>
<path d="M67.00,301.50 L72.40,296.10 M70.00,301.50 L75.40,296.10 M73.00,301.50 L78.40,296.10 M76.00,301.50 L81.40,296.10 M79.00,301.50 L84.40,296.10 " stroke="#0000ff" stroke-width="1.1" clip-path="url(#hc1)"/>
<rect x="72.95" y="296.55" width="4.90" height="4.95" fill="none" stroke="#0000ff" stroke-width="0.9"/>
<text x="80" y="301.8" font-size="9.9" font-weight="bold" text-anchor="start" fill="#231f20" stroke="#231f20" stroke-width="0.4" textLength="178.9" lengthAdjust="spacingAndGlyphs" >CGRP(+) Neurons Conditioned Media</text>
<rect x="72.8" y="308.00" width="5" height="5" fill="#00a651"/>
<text x="80" y="313.4" font-size="9.9" font-weight="bold" text-anchor="start" fill="#231f20" stroke="#231f20" stroke-width="0.4" textLength="222.0" lengthAdjust="spacingAndGlyphs" >TRPA1 Edited CGRP(+) Neurons Control Media</text>
<clipPath id="hc2"><rect x="72.5" y="319.5" width="5.80" height="5.40"/></clipPath>
<rect x="72.5" y="319.5" width="5.80" height="5.40" fill="#fff"/>
<path d="M67.00,319.50 L72.40,324.90 M70.00,319.50 L75.40,324.90 M73.00,319.50 L78.40,324.90 M76.00,319.50 L81.40,324.90 M79.00,319.50 L84.40,324.90 " stroke="#00a651" stroke-width="1.1" clip-path="url(#hc2)"/>
<rect x="72.95" y="319.95" width="4.90" height="4.95" fill="none" stroke="#00a651" stroke-width="0.9"/>
<text x="80" y="324.9" font-size="9.9" font-weight="bold" text-anchor="start" fill="#231f20" stroke="#231f20" stroke-width="0.4" textLength="247.4" lengthAdjust="spacingAndGlyphs" >TRPA1 Edited CGRP(+) Neurons Conditioned Media</text>
<text x="62.2" y="531.8" font-size="15.7" font-weight="bold" text-anchor="end" fill="#231f20" stroke="#231f20" stroke-width="0.4" >0</text>
<text x="62.2" y="499.88" font-size="15.7" font-weight="bold" text-anchor="end" fill="#231f20" stroke="#231f20" stroke-width="0.4" >1</text>
<text x="64.8" y="467.96" font-size="15.7" font-weight="bold" text-anchor="end" fill="#231f20" stroke="#231f20" stroke-width="0.4" >2</text>
<text x="64.8" y="436.04" font-size="15.7" font-weight="bold" text-anchor="end" fill="#231f20" stroke="#231f20" stroke-width="0.4" >3</text>
<text x="64.8" y="404.12" font-size="15.7" font-weight="bold" text-anchor="end" fill="#231f20" stroke="#231f20" stroke-width="0.4" >4</text>
<text x="64.8" y="372.2" font-size="15.7" font-weight="bold" text-anchor="end" fill="#231f20" stroke="#231f20" stroke-width="0.4" >5</text>
<text x="64.8" y="340.28" font-size="15.7" font-weight="bold" text-anchor="end" fill="#231f20" stroke="#231f20" stroke-width="0.4" >6</text>
<path d="M67.9,526.3 L360,526.3 M359.6,526.3 L359.6,523" fill="none" stroke="#e0e0e0" stroke-width="1"/><path d="M67.4,334.2 L67.4,526.6" fill="none" stroke="#adadad" stroke-width="1"/>
<path d="M67.4,526.00 L70,526.00 M67.4,494.08 L70,494.08 M67.4,462.16 L70,462.16 M67.4,430.24 L70,430.24 M67.4,398.32 L70,398.32 M67.4,366.40 L70,366.40 M67.4,334.48 L70,334.48 " stroke="#b8b8b8" stroke-width="1"/>
<line x1="134.00" y1="367.2" x2="134.00" y2="398.6" stroke="#b4b4b4" stroke-width="1.1"/>
<line x1="133.40" y1="367.59999999999997" x2="134.60" y2="367.59999999999997" stroke="#8c8c8c" stroke-width="0.8"/>
<rect x="113.3" y="398.6" width="41.40" height="127.90" fill="#0000ff"/>
<line x1="187.00" y1="483.4" x2="187.00" y2="489.9" stroke="#b4b4b4" stroke-width="1.1"/>
<line x1="186.40" y1="483.79999999999995" x2="187.60" y2="483.79999999999995" stroke="#8c8c8c" stroke-width="0.8"/>
<clipPath id="hc3"><rect x="166.0" y="489.9" width="42.00" height="36.60"/></clipPath>
<rect x="166.0" y="489.9" width="42.00" height="36.60" fill="#fff"/>
<path d="M129.00,526.50 L165.60,489.90 M132.10,526.50 L168.70,489.90 M135.20,526.50 L171.80,489.90 M138.30,526.50 L174.90,489.90 M141.40,526.50 L178.00,489.90 M144.50,526.50 L181.10,489.90 M147.60,526.50 L184.20,489.90 M150.70,526.50 L187.30,489.90 M153.80,526.50 L190.40,489.90 M156.90,526.50 L193.50,489.90 M160.00,526.50 L196.60,489.90 M163.10,526.50 L199.70,489.90 M166.20,526.50 L202.80,489.90 M169.30,526.50 L205.90,489.90 M172.40,526.50 L209.00,489.90 M175.50,526.50 L212.10,489.90 M178.60,526.50 L215.20,489.90 M181.70,526.50 L218.30,489.90 M184.80,526.50 L221.40,489.90 M187.90,526.50 L224.50,489.90 M191.00,526.50 L227.60,489.90 M194.10,526.50 L230.70,489.90 M197.20,526.50 L233.80,489.90 M200.30,526.50 L236.90,489.90 M203.40,526.50 L240.00,489.90 M206.50,526.50 L243.10,489.90 M209.60,526.50 L246.20,489.90 " stroke="#0000ff" stroke-width="1.0" clip-path="url(#hc3)"/>
<rect x="166.35" y="490.25" width="41.30" height="36.25" fill="none" stroke="#0000ff" stroke-width="0.7"/>
<line x1="239.75" y1="383.6" x2="239.75" y2="410.3" stroke="#b4b4b4" stroke-width="1.1"/>
<line x1="239.15" y1="384.0" x2="240.35" y2="384.0" stroke="#8c8c8c" stroke-width="0.8"/>
<rect x="219.1" y="410.3" width="41.30" height="116.20" fill="#00a651"/>
<line x1="292.90" y1="453.5" x2="292.90" y2="486.3" stroke="#b4b4b4" stroke-width="1.1"/>
<line x1="292.30" y1="453.9" x2="293.50" y2="453.9" stroke="#8c8c8c" stroke-width="0.8"/>
<clipPath id="hc4"><rect x="271.8" y="486.3" width="42.20" height="40.20"/></clipPath>
<rect x="271.8" y="486.3" width="42.20" height="40.20" fill="#fff"/>
<path d="M231.80,486.30 L272.00,526.50 M235.15,486.30 L275.35,526.50 M238.50,486.30 L278.70,526.50 M241.85,486.30 L282.05,526.50 M245.20,486.30 L285.40,526.50 M248.55,486.30 L288.75,526.50 M251.90,486.30 L292.10,526.50 M255.25,486.30 L295.45,526.50 M258.60,486.30 L298.80,526.50 M261.95,486.30 L302.15,526.50 M265.30,486.30 L305.50,526.50 M268.65,486.30 L308.85,526.50 M272.00,486.30 L312.20,526.50 M275.35,486.30 L315.55,526.50 M278.70,486.30 L318.90,526.50 M282.05,486.30 L322.25,526.50 M285.40,486.30 L325.60,526.50 M288.75,486.30 L328.95,526.50 M292.10,486.30 L332.30,526.50 M295.45,486.30 L335.65,526.50 M298.80,486.30 L339.00,526.50 M302.15,486.30 L342.35,526.50 M305.50,486.30 L345.70,526.50 M308.85,486.30 L349.05,526.50 M312.20,486.30 L352.40,526.50 M315.55,486.30 L355.75,526.50 " stroke="#00a651" stroke-width="1.1" clip-path="url(#hc4)"/>
<rect x="272.15" y="486.65" width="41.50" height="39.85" fill="none" stroke="#00a651" stroke-width="0.7"/>
<line x1="133.1" y1="361" x2="188.4" y2="361" stroke="#111" stroke-width="1.5"/>
<line x1="184.1" y1="344.8" x2="293.7" y2="344.8" stroke="#111" stroke-width="1.5"/>
<line x1="239.1" y1="378.2" x2="293.7" y2="378.2" stroke="#111" stroke-width="1.5"/>
<path d="M161.60,348.90 L161.60,357.70 M165.41,351.10 L157.79,355.50 M165.41,355.50 L157.79,351.10 " stroke="#111" stroke-width="1.9" stroke-linecap="butt"/>
<path d="M267.50,364.80 L267.50,373.60 M271.31,367.00 L263.69,371.40 M271.31,371.40 L263.69,367.00 " stroke="#111" stroke-width="1.9" stroke-linecap="butt"/>
<text x="222" y="341.8" font-size="12" font-weight="bold" text-anchor="start" fill="#231f20" stroke="#231f20" stroke-width="0.4" textLength="19.8" lengthAdjust="spacingAndGlyphs" >N.S</text>
<text transform="translate(32.9,443.3) rotate(-90)" font-size="14.6" font-weight="bold" fill="#231f20" stroke="#231f20" stroke-width="0.4" textLength="26.5" lengthAdjust="spacingAndGlyphs">S50</text>
<text x="396.4" y="287.5" font-size="15" font-weight="normal" text-anchor="start" fill="#231f20" >(D)</text>
<rect x="442.5" y="283.30" width="5" height="5" fill="#0000ff"/>
<text x="450.7" y="288.9" font-size="9.9" font-weight="bold" text-anchor="start" fill="#231f20" stroke="#231f20" stroke-width="0.4" textLength="154.1" lengthAdjust="spacingAndGlyphs" >CGRP(+) Neurons Control Media</text>
<clipPath id="hc5"><rect x="442.2" y="296.1" width="5.80" height="5.40"/></clipPath>
<rect x="442.2" y="296.1" width="5.80" height="5.40" fill="#fff"/>
<path d="M437.00,301.50 L442.40,296.10 M440.00,301.50 L445.40,296.10 M443.00,301.50 L448.40,296.10 M446.00,301.50 L451.40,296.10 M449.00,301.50 L454.40,296.10 " stroke="#0000ff" stroke-width="1.1" clip-path="url(#hc5)"/>
<rect x="442.65" y="296.55" width="4.90" height="4.95" fill="none" stroke="#0000ff" stroke-width="0.9"/>
<text x="450.7" y="301.8" font-size="9.9" font-weight="bold" text-anchor="start" fill="#231f20" stroke="#231f20" stroke-width="0.4" textLength="178.2" lengthAdjust="spacingAndGlyphs" >CGRP(+) Neurons Conditioned Media</text>
<rect x="442.5" y="308.00" width="5" height="5" fill="#00a651"/>
<text x="450.7" y="313.4" font-size="9.9" font-weight="bold" text-anchor="start" fill="#231f20" stroke="#231f20" stroke-width="0.4" textLength="222.1" lengthAdjust="spacingAndGlyphs" >TRPA1 Edited CGRP(+) Neurons Control Media</text>
<clipPath id="hc6"><rect x="442.2" y="319.5" width="5.80" height="5.40"/></clipPath>
<rect x="442.2" y="319.5" width="5.80" height="5.40" fill="#fff"/>
<path d="M437.00,319.50 L442.40,324.90 M440.00,319.50 L445.40,324.90 M443.00,319.50 L448.40,324.90 M446.00,319.50 L451.40,324.90 M449.00,319.50 L454.40,324.90 " stroke="#00a651" stroke-width="1.1" clip-path="url(#hc6)"/>
<rect x="442.65" y="319.95" width="4.90" height="4.95" fill="none" stroke="#00a651" stroke-width="0.9"/>
<text x="450.7" y="324.9" font-size="9.9" font-weight="bold" text-anchor="start" fill="#231f20" stroke="#231f20" stroke-width="0.4" textLength="247.1" lengthAdjust="spacingAndGlyphs" >TRPA1 Edited CGRP(+) Neurons Conditioned Media</text>
<text x="429.8" y="531.9" font-size="15.7" font-weight="bold" text-anchor="end" fill="#231f20" stroke="#231f20" stroke-width="0.4" >0</text>
<text x="429.8" y="499.94" font-size="15.7" font-weight="bold" text-anchor="end" fill="#231f20" stroke="#231f20" stroke-width="0.4" >10</text>
<text x="429.8" y="467.98" font-size="15.7" font-weight="bold" text-anchor="end" fill="#231f20" stroke="#231f20" stroke-width="0.4" >20</text>
<text x="429.8" y="436.02" font-size="15.7" font-weight="bold" text-anchor="end" fill="#231f20" stroke="#231f20" stroke-width="0.4" >30</text>
<text x="429.8" y="404.06" font-size="15.7" font-weight="bold" text-anchor="end" fill="#231f20" stroke="#231f20" stroke-width="0.4" >40</text>
<text x="429.8" y="372.1" font-size="15.7" font-weight="bold" text-anchor="end" fill="#231f20" stroke="#231f20" stroke-width="0.4" >50</text>
<text x="429.8" y="340.14" font-size="15.7" font-weight="bold" text-anchor="end" fill="#231f20" stroke="#231f20" stroke-width="0.4" >60</text>
<path d="M434.3,526.3 L707.6,526.3" fill="none" stroke="#e0e0e0" stroke-width="1"/><path d="M433.8,334.25 L433.8,526.6" fill="none" stroke="#adadad" stroke-width="1"/>
<path d="M433.8,526.00 L436.4,526.00 M433.8,494.04 L436.4,494.04 M433.8,462.08 L436.4,462.08 M433.8,430.12 L436.4,430.12 M433.8,398.16 L436.4,398.16 M433.8,366.20 L436.4,366.20 M433.8,334.24 L436.4,334.24 " stroke="#b8b8b8" stroke-width="1"/>
<line x1="499.25" y1="490.7" x2="499.25" y2="501.6" stroke="#b4b4b4" stroke-width="1.1"/>
<line x1="498.65" y1="491.09999999999997" x2="499.85" y2="491.09999999999997" stroke="#8c8c8c" stroke-width="0.8"/>
<rect x="479.1" y="501.6" width="40.30" height="24.90" fill="#0000ff"/>
<line x1="551.15" y1="368.3" x2="551.15" y2="375.3" stroke="#b4b4b4" stroke-width="1.1"/>
<line x1="550.55" y1="368.7" x2="551.75" y2="368.7" stroke="#8c8c8c" stroke-width="0.8"/>
<clipPath id="hc7"><rect x="530.3" y="375.3" width="41.70" height="151.20"/></clipPath>
<rect x="530.3" y="375.3" width="41.70" height="151.20" fill="#fff"/>
<path d="M379.00,526.50 L530.20,375.30 M382.10,526.50 L533.30,375.30 M385.20,526.50 L536.40,375.30 M388.30,526.50 L539.50,375.30 M391.40,526.50 L542.60,375.30 M394.50,526.50 L545.70,375.30 M397.60,526.50 L548.80,375.30 M400.70,526.50 L551.90,375.30 M403.80,526.50 L555.00,375.30 M406.90,526.50 L558.10,375.30 M410.00,526.50 L561.20,375.30 M413.10,526.50 L564.30,375.30 M416.20,526.50 L567.40,375.30 M419.30,526.50 L570.50,375.30 M422.40,526.50 L573.60,375.30 M425.50,526.50 L576.70,375.30 M428.60,526.50 L579.80,375.30 M431.70,526.50 L582.90,375.30 M434.80,526.50 L586.00,375.30 M437.90,526.50 L589.10,375.30 M441.00,526.50 L592.20,375.30 M444.10,526.50 L595.30,375.30 M447.20,526.50 L598.40,375.30 M450.30,526.50 L601.50,375.30 M453.40,526.50 L604.60,375.30 M456.50,526.50 L607.70,375.30 M459.60,526.50 L610.80,375.30 M462.70,526.50 L613.90,375.30 M465.80,526.50 L617.00,375.30 M468.90,526.50 L620.10,375.30 M472.00,526.50 L623.20,375.30 M475.10,526.50 L626.30,375.30 M478.20,526.50 L629.40,375.30 M481.30,526.50 L632.50,375.30 M484.40,526.50 L635.60,375.30 M487.50,526.50 L638.70,375.30 M490.60,526.50 L641.80,375.30 M493.70,526.50 L644.90,375.30 M496.80,526.50 L648.00,375.30 M499.90,526.50 L651.10,375.30 M503.00,526.50 L654.20,375.30 M506.10,526.50 L657.30,375.30 M509.20,526.50 L660.40,375.30 M512.30,526.50 L663.50,375.30 M515.40,526.50 L666.60,375.30 M518.50,526.50 L669.70,375.30 M521.60,526.50 L672.80,375.30 M524.70,526.50 L675.90,375.30 M527.80,526.50 L679.00,375.30 M530.90,526.50 L682.10,375.30 M534.00,526.50 L685.20,375.30 M537.10,526.50 L688.30,375.30 M540.20,526.50 L691.40,375.30 M543.30,526.50 L694.50,375.30 M546.40,526.50 L697.60,375.30 M549.50,526.50 L700.70,375.30 M552.60,526.50 L703.80,375.30 M555.70,526.50 L706.90,375.30 M558.80,526.50 L710.00,375.30 M561.90,526.50 L713.10,375.30 M565.00,526.50 L716.20,375.30 M568.10,526.50 L719.30,375.30 M571.20,526.50 L722.40,375.30 M574.30,526.50 L725.50,375.30 " stroke="#0000ff" stroke-width="1.0" clip-path="url(#hc7)"/>
<rect x="530.65" y="375.65" width="41.00" height="150.85" fill="none" stroke="#0000ff" stroke-width="0.7"/>
<line x1="603.20" y1="479.7" x2="603.20" y2="487.7" stroke="#b4b4b4" stroke-width="1.1"/>
<line x1="602.60" y1="480.09999999999997" x2="603.80" y2="480.09999999999997" stroke="#8c8c8c" stroke-width="0.8"/>
<rect x="582.6" y="487.7" width="41.20" height="38.80" fill="#00a651"/>
<line x1="655.40" y1="409.4" x2="655.40" y2="433.1" stroke="#b4b4b4" stroke-width="1.1"/>
<line x1="654.80" y1="409.79999999999995" x2="656.00" y2="409.79999999999995" stroke="#8c8c8c" stroke-width="0.8"/>
<clipPath id="hc8"><rect x="634.1" y="433.1" width="42.60" height="93.40"/></clipPath>
<rect x="634.1" y="433.1" width="42.60" height="93.40" fill="#fff"/>
<path d="M540.60,433.10 L634.00,526.50 M543.95,433.10 L637.35,526.50 M547.30,433.10 L640.70,526.50 M550.65,433.10 L644.05,526.50 M554.00,433.10 L647.40,526.50 M557.35,433.10 L650.75,526.50 M560.70,433.10 L654.10,526.50 M564.05,433.10 L657.45,526.50 M567.40,433.10 L660.80,526.50 M570.75,433.10 L664.15,526.50 M574.10,433.10 L667.50,526.50 M577.45,433.10 L670.85,526.50 M580.80,433.10 L674.20,526.50 M584.15,433.10 L677.55,526.50 M587.50,433.10 L680.90,526.50 M590.85,433.10 L684.25,526.50 M594.20,433.10 L687.60,526.50 M597.55,433.10 L690.95,526.50 M600.90,433.10 L694.30,526.50 M604.25,433.10 L697.65,526.50 M607.60,433.10 L701.00,526.50 M610.95,433.10 L704.35,526.50 M614.30,433.10 L707.70,526.50 M617.65,433.10 L711.05,526.50 M621.00,433.10 L714.40,526.50 M624.35,433.10 L717.75,526.50 M627.70,433.10 L721.10,526.50 M631.05,433.10 L724.45,526.50 M634.40,433.10 L727.80,526.50 M637.75,433.10 L731.15,526.50 M641.10,433.10 L734.50,526.50 M644.45,433.10 L737.85,526.50 M647.80,433.10 L741.20,526.50 M651.15,433.10 L744.55,526.50 M654.50,433.10 L747.90,526.50 M657.85,433.10 L751.25,526.50 M661.20,433.10 L754.60,526.50 M664.55,433.10 L757.95,526.50 M667.90,433.10 L761.30,526.50 M671.25,433.10 L764.65,526.50 M674.60,433.10 L768.00,526.50 M677.95,433.10 L771.35,526.50 " stroke="#00a651" stroke-width="1.1" clip-path="url(#hc8)"/>
<rect x="634.45" y="433.45" width="41.90" height="93.05" fill="none" stroke="#00a651" stroke-width="0.7"/>
<line x1="495.3" y1="363.8" x2="550.4" y2="363.8" stroke="#111" stroke-width="1.5"/>
<line x1="550.0" y1="352.2" x2="655.5" y2="352.2" stroke="#111" stroke-width="1.5"/>
<line x1="605.4" y1="404" x2="655.5" y2="404" stroke="#111" stroke-width="1.5"/>
<path d="M520.60,352.60 L520.60,361.40 M524.41,354.80 L516.79,359.20 M524.41,359.20 L516.79,354.80 " stroke="#111" stroke-width="1.9" stroke-linecap="butt"/>
<path d="M602.50,338.40 L602.50,347.20 M606.31,340.60 L598.69,345.00 M606.31,345.00 L598.69,340.60 " stroke="#111" stroke-width="1.9" stroke-linecap="butt"/>
<path d="M630.00,391.40 L630.00,400.20 M633.81,393.60 L626.19,398.00 M633.81,398.00 L626.19,393.60 " stroke="#111" stroke-width="1.9" stroke-linecap="butt"/>
<text transform="translate(406.6,450.5) rotate(-90)" font-size="16" font-weight="bold" fill="#231f20" stroke="#231f20" stroke-width="0.4" textLength="39" lengthAdjust="spacingAndGlyphs">SMax</text>
</svg>
</body></html>
